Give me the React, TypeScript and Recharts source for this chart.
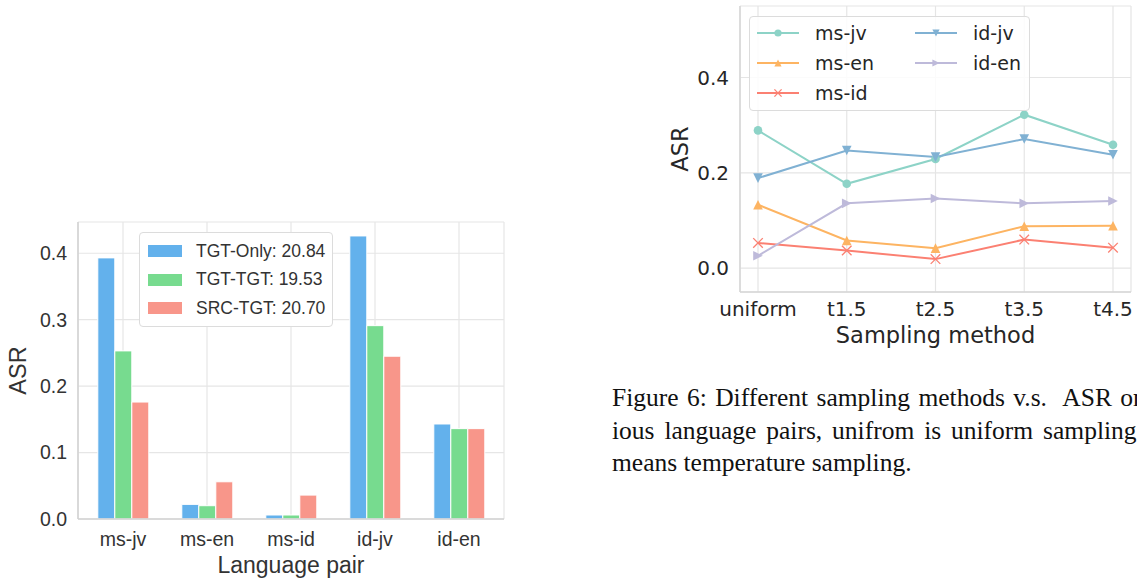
import React from "react";
import {
  BarChart, Bar, LineChart, Line, XAxis, YAxis, CartesianGrid, Legend, Label,
} from "recharts";

// left panel: ASR per language pair
const PAIRS = ["ms-jv", "ms-en", "ms-id", "id-jv", "id-en"];
const TGT_ONLY = [0.393, 0.022, 0.006, 0.426, 0.143];
const TGT_TGT = [0.253, 0.020, 0.006, 0.291, 0.136];
const SRC_TGT = [0.176, 0.056, 0.036, 0.245, 0.136];
const BAR_TICKS = [0, 0.1, 0.2, 0.3, 0.4];

// right panel: ASR per sampling method
const METHODS = ["uniform", "t1.5", "t2.5", "t3.5", "t4.5"];
const MS_JV = [0.289, 0.177, 0.229, 0.322, 0.259];
const MS_EN = [0.133, 0.058, 0.042, 0.088, 0.089];
const MS_ID = [0.053, 0.037, 0.019, 0.060, 0.043];
const ID_JV = [0.189, 0.247, 0.233, 0.271, 0.238];
const ID_EN = [0.026, 0.136, 0.146, 0.136, 0.141];
const LINE_TICKS = [0, 0.2, 0.4];

const barData = PAIRS.map((p, i) => ({
  pair: p,
  "TGT-Only: 20.84": TGT_ONLY[i],
  "TGT-TGT: 19.53": TGT_TGT[i],
  "SRC-TGT: 20.70": SRC_TGT[i],
}));

const lineData = METHODS.map((m, i) => ({
  method: m,
  "ms-jv": MS_JV[i],
  "ms-en": MS_EN[i],
  "ms-id": MS_ID[i],
  "id-jv": ID_JV[i],
  "id-en": ID_EN[i],
}));

const BAR_SERIES = [
  { key: "TGT-Only: 20.84", color: "#63b1ec" },
  { key: "TGT-TGT: 19.53", color: "#77db8f" },
  { key: "SRC-TGT: 20.70", color: "#f8968a" },
];

const LINE_SERIES = [
  { key: "ms-jv", color: "#8dd3c7", shape: "circle" },
  { key: "ms-en", color: "#fdb462", shape: "up" },
  { key: "ms-id", color: "#fb8072", shape: "x" },
  { key: "id-jv", color: "#80b1d3", shape: "down" },
  { key: "id-en", color: "#bebada", shape: "right" },
];

function Marker({ cx, cy, shape, color, r }: any) {
  if (cx == null || cy == null) return null;
  if (shape === "circle") return <circle cx={cx} cy={cy} r={r} fill={color} />;
  if (shape === "x") {
    return (
      <g stroke={color} strokeWidth={1.3}>
        <line x1={cx - r} y1={cy - r} x2={cx + r} y2={cy + r} />
        <line x1={cx - r} y1={cy + r} x2={cx + r} y2={cy - r} />
      </g>
    );
  }
  let pts = "";
  if (shape === "up") pts = `${cx},${cy - r} ${cx - r},${cy + r} ${cx + r},${cy + r}`;
  if (shape === "down") pts = `${cx},${cy + r} ${cx - r},${cy - r} ${cx + r},${cy - r}`;
  if (shape === "right") pts = `${cx + r},${cy} ${cx - r},${cy - r} ${cx - r},${cy + r}`;
  return <polygon points={pts} fill={color} />;
}

function BarLegend() {
  return (
    <div style={{
      background: "#fff", border: "1px solid #dcdcdc", borderRadius: 4,
      padding: "4px 7px 3px 8px", fontSize: 17.5, color: "#333", whiteSpace: "nowrap",
    }}>
      {BAR_SERIES.map((s) => (
        <div key={s.key} style={{ display: "flex", alignItems: "center", height: 28.5 }}>
          <div style={{ width: 34, height: 12, background: s.color, marginRight: 14 }} />
          <span>{s.key}</span>
        </div>
      ))}
    </div>
  );
}

function LineLegend() {
  return (
    <div style={{
      background: "rgba(255,255,255,0.85)", border: "1px solid #dcdcdc", borderRadius: 4,
      width: 279, height: 93, position: "relative",
      fontSize: 19, color: "#262626", whiteSpace: "nowrap",
    }}>
      {LINE_SERIES.map((s, i) => {
        const col = i < 3 ? 0 : 1;
        const row = i < 3 ? i : i - 3;
        return (
          <div key={s.key} style={{
            position: "absolute", left: 7 + col * 158, top: row * 30 + 1,
            height: 30, display: "flex", alignItems: "center",
          }}>
            <svg width={42} height={14} style={{ marginRight: 16 }}>
              <line x1={0} y1={7} x2={42} y2={7} stroke={s.color} strokeWidth={2} />
              <Marker cx={21} cy={7} shape={s.shape} color={s.color} r={3.6} />
            </svg>
            <span>{s.key}</span>
          </div>
        );
      })}
    </div>
  );
}

export default function App() {
  return (
    <div style={{ position: "absolute", left: 0, top: 0, width: 1137, height: 584, background: "#fff", overflow: "hidden" }}>
      <div style={{ position: "absolute", left: 0, top: 210, fontFamily: "'Liberation Sans', Arial, sans-serif" }}>
        <BarChart width={560} height={374} data={barData}
          margin={{ top: 12, right: 56, left: 0, bottom: 0 }}
          barCategoryGap="20%" barGap={0}>
          <CartesianGrid stroke="#e6e6e6" strokeWidth={1.2} />
          <XAxis dataKey="pair" height={65} padding={{ left: 3, right: 3 }}
            tickLine={false} tickSize={0} tickMargin={13}
            axisLine={{ stroke: "#d2d2d2", strokeWidth: 1.5 }}
            tick={{ fontSize: 19.5, fill: "#333" }}>
            <Label value="Language pair" position="insideBottom" offset={11}
              style={{ fontSize: 23, fill: "#333" }} />
          </XAxis>
          <XAxis xAxisId="top" dataKey="pair" orientation="top" height={0} tick={false}
            tickLine={false} axisLine={{ stroke: "#d2d2d2", strokeWidth: 1.5 }} />
          <YAxis width={78} domain={[0, 0.447]} ticks={BAR_TICKS}
            tickFormatter={(v: number) => v.toFixed(1)}
            tickLine={false} tickSize={0} tickMargin={11}
            axisLine={{ stroke: "#d2d2d2", strokeWidth: 1.5 }}
            tick={{ fontSize: 19.5, fill: "#333" }}>
            <Label value="ASR" position="insideLeft" angle={-90} offset={18}
              style={{ fontSize: 23.5, fill: "#333", textAnchor: "middle" }} />
          </YAxis>
          <YAxis yAxisId="right" orientation="right" width={0} tick={false}
            tickLine={false} axisLine={{ stroke: "#d2d2d2", strokeWidth: 1.5 }} />
          {BAR_SERIES.map((s) => (
            <Bar key={s.key} dataKey={s.key} fill={s.color} stroke="#fff" strokeWidth={1}
              isAnimationActive={false} />
          ))}
          <Legend layout="vertical" align="center" verticalAlign="middle"
            content={<BarLegend />}
            wrapperStyle={{ left: 139, top: 22, width: "auto", height: "auto" }} />
        </BarChart>
      </div>

      <div style={{ position: "absolute", left: 660, top: 0, fontFamily: "'DejaVu Sans', sans-serif" }}>
        <LineChart width={477} height={360} data={lineData}
          margin={{ top: 6, right: 6, left: 0, bottom: 0 }}>
          <CartesianGrid stroke="#e5e5e5" strokeWidth={1.2} />
          <XAxis dataKey="method" height={68} padding={{ left: 18, right: 18 }}
            tickLine={false} tickSize={0} tickMargin={10}
            axisLine={{ stroke: "#d6d6d6", strokeWidth: 1.5 }}
            tick={{ fontSize: 20, fill: "#262626" }}>
            <Label value="Sampling method" position="insideBottom" offset={17}
              style={{ fontSize: 22.5, fill: "#262626" }} />
          </XAxis>
          <XAxis xAxisId="top" dataKey="method" orientation="top" height={0} tick={false}
            tickLine={false} axisLine={{ stroke: "#d6d6d6", strokeWidth: 1.5 }} />
          <YAxis width={80} domain={[-0.05, 0.55]} ticks={LINE_TICKS}
            tickFormatter={(v: number) => v.toFixed(1)}
            tickLine={false} tickSize={0} tickMargin={11}
            axisLine={{ stroke: "#d6d6d6", strokeWidth: 1.5 }}
            tick={{ fontSize: 20, fill: "#262626" }}>
            <Label value="ASR" position="insideLeft" angle={-90} offset={20}
              style={{ fontSize: 22.5, fill: "#262626", textAnchor: "middle" }} />
          </YAxis>
          <YAxis yAxisId="right" orientation="right" width={0} tick={false}
            tickLine={false} axisLine={{ stroke: "#d6d6d6", strokeWidth: 1.5 }} />
          {LINE_SERIES.map((s) => (
            <Line key={s.key} dataKey={s.key} stroke={s.color} strokeWidth={2}
              isAnimationActive={false}
              dot={(p: any) => (
                <Marker key={`${s.key}-${p.index}`} cx={p.cx} cy={p.cy}
                  shape={s.shape} color={s.color} r={s.shape === "circle" ? 4.3 : 4.8} />
              )}
              activeDot={false} />
          ))}
          <Legend layout="vertical" align="center" verticalAlign="middle"
            content={<LineLegend />}
            wrapperStyle={{ left: 89, top: 16, width: "auto", height: "auto" }} />
        </LineChart>
      </div>

      <div style={{
        position: "absolute", left: 612, top: 382, width: 525, overflow: "hidden",
        whiteSpace: "nowrap", fontFamily: "'Liberation Serif', 'Times New Roman', serif",
        fontSize: 25.5, lineHeight: "32.5px", color: "#111",
      }}>
        <div style={{ wordSpacing: 2 }}>Figure 6: Different sampling methods v.s.&nbsp; ASR on</div>
        <div style={{ wordSpacing: 3.5 }}>ious language pairs, unifrom is uniform sampling</div>
        <div>means temperature sampling.</div>
      </div>
    </div>
  );
}
